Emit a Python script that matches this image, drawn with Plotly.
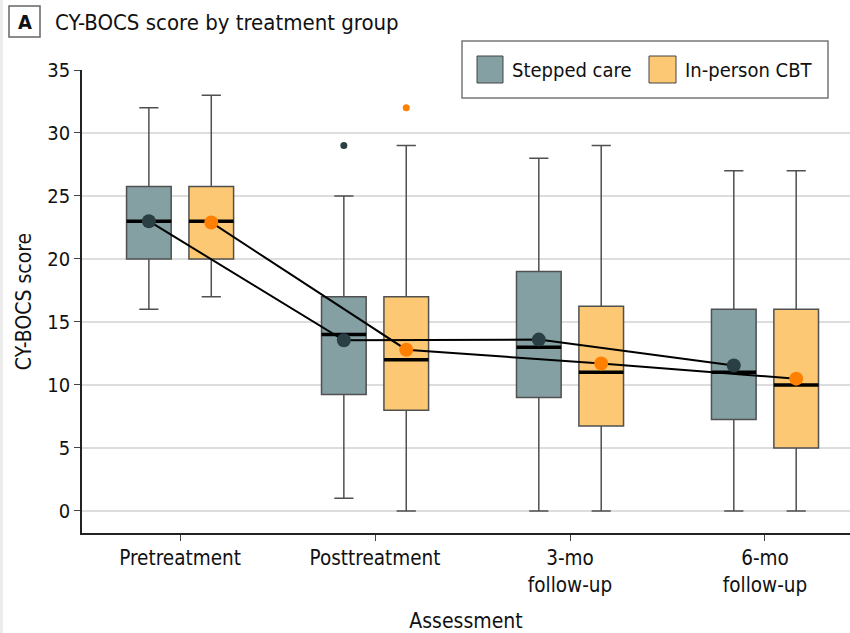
import plotly.graph_objects as go

# Assessment points (x tick labels)
categories = ["Pretreatment", "Posttreatment", "3-mo<br>follow-up", "6-mo<br>follow-up"]

# Stepped care: box summary statistics per assessment
stepped_low = [16, 1, 0, 0]
stepped_q1 = [20, 9.25, 9, 7.25]
stepped_median = [23, 14, 13, 11]
stepped_q3 = [25.75, 17, 19, 16]
stepped_high = [32, 25, 28, 27]
stepped_mean = [23, 13.55, 13.6, 11.55]
stepped_outlier_idx = [1]
stepped_outlier_val = [29]

# In-person CBT: box summary statistics per assessment
cbt_low = [17, 0, 0, 0]
cbt_q1 = [20, 8, 6.75, 5]
cbt_median = [23, 12, 11, 10]
cbt_q3 = [25.75, 17, 16.25, 16]
cbt_high = [33, 29, 29, 27]
cbt_mean = [22.9, 12.8, 11.7, 10.5]
cbt_outlier_idx = [1]
cbt_outlier_val = [32]

y_ticks = [0, 5, 10, 15, 20, 25, 30, 35]

# Styling
FONT = "Liberation Sans Narrow, DejaVu Sans Condensed, Arial Narrow, sans-serif"
STEP_FILL = "#84a0a3"
CBT_FILL = "#fcc873"
STEP_DOT = "#2a3f44"
CBT_DOT = "#ff8000"
BOX_LINE = "#505050"
OFFSET = 0.16
BOX_W = 0.229

W, H = 850, 633
ML, MR, MT, MB = 82, 0, 70, 100
PW, PH = W - ML - MR, H - MT - MB


def px(xp):
    return (xp - ML) / PW


def py(yp):
    return (H - MB - yp) / PH


groups = [
    dict(name="Stepped care", off=-OFFSET, fill=STEP_FILL, dot=STEP_DOT,
         low=stepped_low, q1=stepped_q1, med=stepped_median, q3=stepped_q3,
         high=stepped_high, mean=stepped_mean,
         oi=stepped_outlier_idx, ov=stepped_outlier_val),
    dict(name="In-person CBT", off=OFFSET, fill=CBT_FILL, dot=CBT_DOT,
         low=cbt_low, q1=cbt_q1, med=cbt_median, q3=cbt_q3,
         high=cbt_high, mean=cbt_mean,
         oi=cbt_outlier_idx, ov=cbt_outlier_val),
]

fig = go.Figure()

for g in groups:
    pos = [i + g["off"] for i in range(len(categories))]
    fig.add_trace(go.Box(
        x=pos, q1=g["q1"], median=g["med"], q3=g["q3"],
        lowerfence=g["low"], upperfence=g["high"],
        width=BOX_W, whiskerwidth=0.43, boxpoints=False,
        fillcolor=g["fill"], line=dict(color=BOX_LINE, width=1.5),
        name=g["name"], showlegend=False, hoverinfo="skip",
    ))
    # thicker median bars
    mx, my = [], []
    for p, m in zip(pos, g["med"]):
        mx += [p - BOX_W / 2, p + BOX_W / 2, None]
        my += [m, m, None]
    fig.add_trace(go.Scatter(x=mx, y=my, mode="lines",
                             line=dict(color="black", width=3.5),
                             showlegend=False, hoverinfo="skip"))
    g["pos"] = pos

# lines joining the group means
for g in groups:
    fig.add_trace(go.Scatter(x=g["pos"], y=g["mean"], mode="lines",
                             line=dict(color="black", width=2),
                             showlegend=False, hoverinfo="skip"))

# mean markers and outliers
for g in groups:
    fig.add_trace(go.Scatter(x=g["pos"], y=g["mean"], mode="markers",
                             marker=dict(color=g["dot"], size=14),
                             showlegend=False, hoverinfo="skip"))
    fig.add_trace(go.Scatter(x=[i + g["off"] for i in g["oi"]], y=g["ov"],
                             mode="markers",
                             marker=dict(color=g["dot"], size=7),
                             showlegend=False, hoverinfo="skip"))

shapes = [
    # faint frame strip on the left edge
    dict(type="rect", xref="paper", yref="paper", x0=px(0), x1=px(3),
         y0=py(H), y1=py(0), fillcolor="#ececec", line=dict(width=0),
         layer="below"),
    # panel letter box
    dict(type="rect", xref="paper", yref="paper", x0=px(9), x1=px(40),
         y0=py(37), y1=py(6), line=dict(color="#666666", width=1.5),
         fillcolor="white"),
    # legend frame
    dict(type="rect", xref="paper", yref="paper", x0=px(462), x1=px(828),
         y0=py(98), y1=py(41), line=dict(color="#777777", width=1.5),
         fillcolor="white"),
    dict(type="rect", xref="paper", yref="paper", x0=px(477), x1=px(503),
         y0=py(83), y1=py(56), line=dict(color="#444444", width=1),
         fillcolor=STEP_FILL),
    dict(type="rect", xref="paper", yref="paper", x0=px(649), x1=px(676),
         y0=py(83), y1=py(56), line=dict(color="#444444", width=1),
         fillcolor=CBT_FILL),
]

annotations = [
    dict(text="<b>A</b>", xref="paper", yref="paper", x=px(24.5), y=py(22),
         xanchor="center", yanchor="middle", showarrow=False,
         font=dict(size=20, color="#111111", family=FONT)),
    dict(text="CY-BOCS score by treatment group", xref="paper", yref="paper",
         x=px(53), y=py(22), xanchor="left", yanchor="middle", showarrow=False,
         font=dict(size=22, color="#111111", family=FONT)),
    dict(text="Stepped care", xref="paper", yref="paper", x=px(510),
         y=py(70), xanchor="left", yanchor="middle", showarrow=False,
         font=dict(size=20, color="#111111", family=FONT)),
    dict(text="In-person CBT", xref="paper", yref="paper", x=px(683),
         y=py(70), xanchor="left", yanchor="middle", showarrow=False,
         font=dict(size=20, color="#111111", family=FONT)),
]

fig.update_layout(
    width=W, height=H,
    margin=dict(l=ML, r=MR, t=MT, b=MB),
    paper_bgcolor="white", plot_bgcolor="white",
    font=dict(family=FONT, size=19, color="#111111"),
    boxmode="overlay",
    showlegend=False,
    shapes=shapes,
    annotations=annotations,
    xaxis=dict(
        range=[-0.503, 3.436], tickmode="array",
        tickvals=list(range(len(categories))), ticktext=categories,
        ticks="outside", ticklen=6, tickwidth=1.2, tickcolor="#444444",
        showline=True, linecolor="#222222", linewidth=1.5,
        showgrid=False, zeroline=False,
        tickfont=dict(size=20.5),
        title=dict(text="Assessment", font=dict(size=21), standoff=22),
    ),
    yaxis=dict(
        range=[-1.75, 35], tickmode="array", tickvals=y_ticks,
        ticks="outside", ticklen=6, tickwidth=1.2, tickcolor="#444444",
        showline=True, linecolor="#222222", linewidth=1.5,
        showgrid=True, gridcolor="#dddddd", gridwidth=1.5, zeroline=False,
        tickfont=dict(size=20),
        title=dict(text="CY-BOCS score", font=dict(size=21), standoff=10),
    ),
)

fig.write_html("out.html")
